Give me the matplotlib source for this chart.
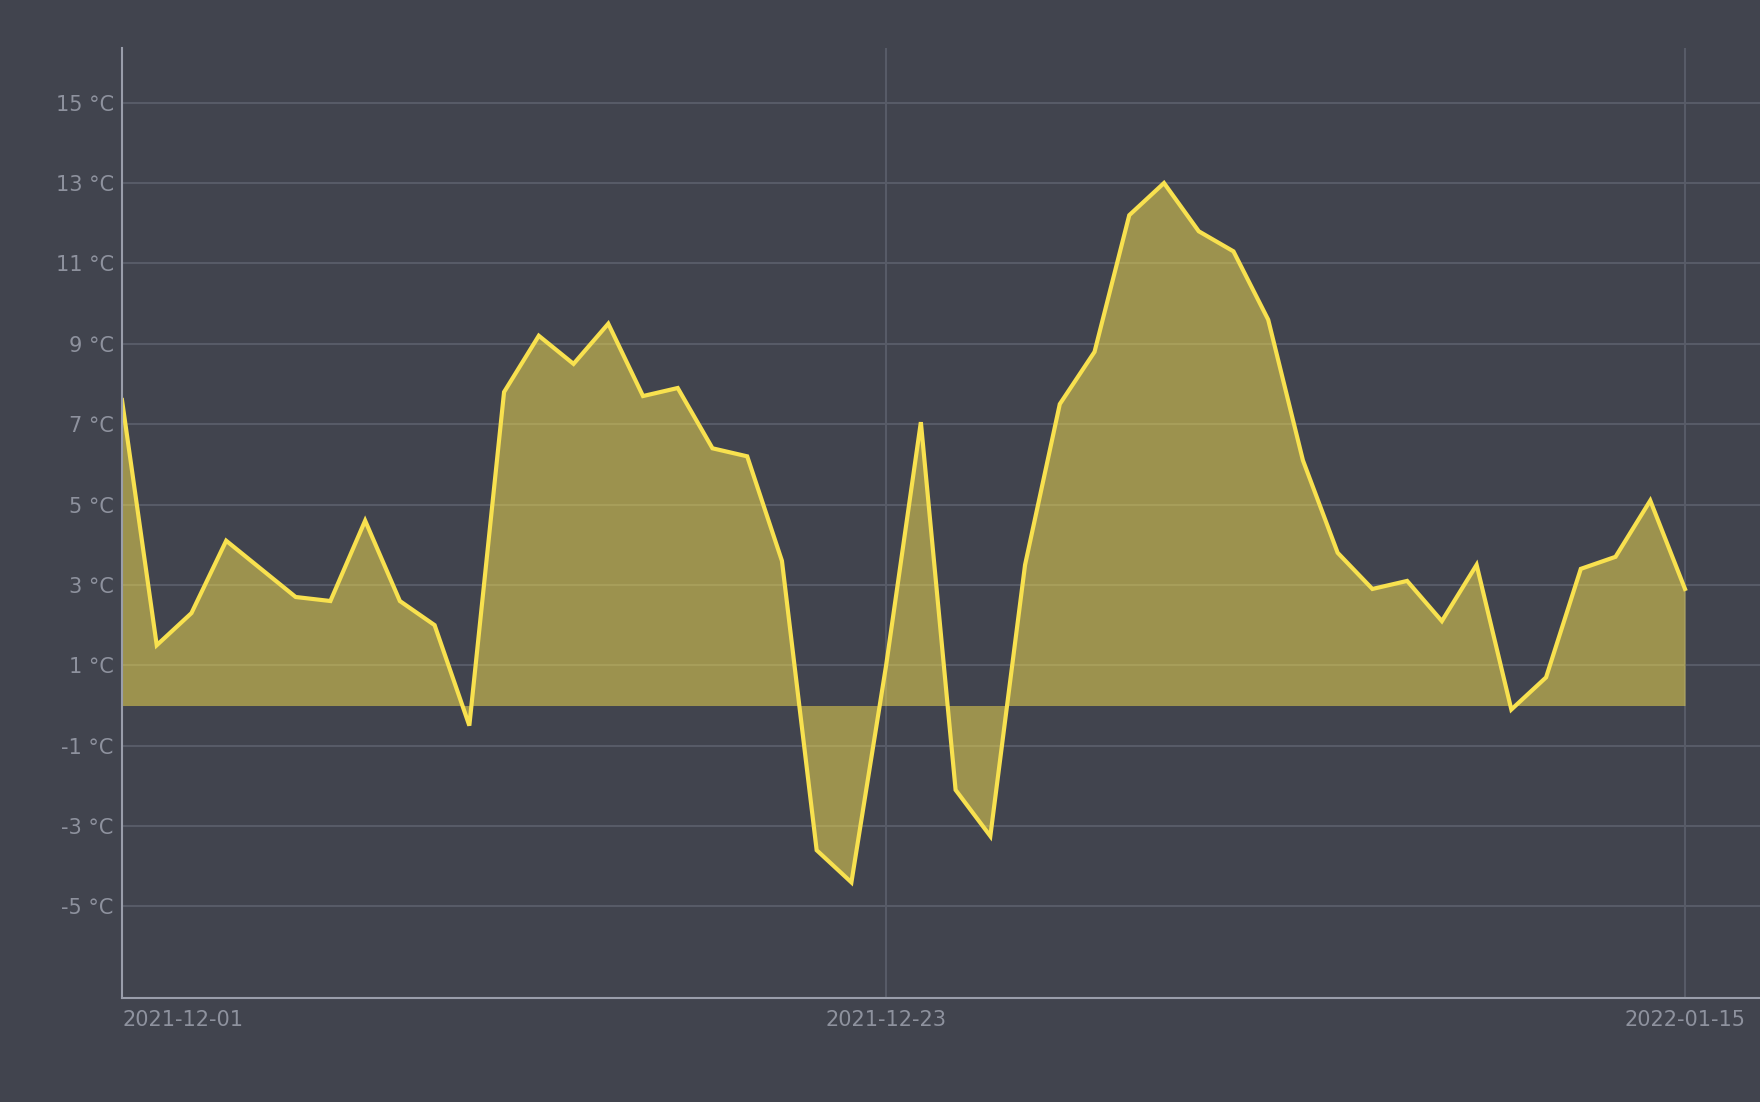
import matplotlib
matplotlib.use("Agg")
import matplotlib.pyplot as plt
import matplotlib.dates as mdates
import numpy as np
import pandas as pd

dates = pd.date_range("2021-12-01", "2022-01-15", freq="D")
temps = [7.6, 1.5, 2.3, 4.1, 3.4, 2.7, 2.6, 4.6, 2.6, 2.0,
         -0.5, 7.8, 9.2, 8.5, 9.5, 7.7, 7.9, 6.4, 6.2, 3.6,
         -3.6, -4.4, 1.0, 7.05, -2.1, -3.25, 3.5, 7.5, 8.8, 12.2,
         13.0, 11.8, 11.3, 9.6, 6.1, 3.8, 2.9, 3.1, 2.1, 3.5,
         -0.1, 0.7, 3.4, 3.7, 5.1, 2.9]
yticks = [-5, -3, -1, 1, 3, 5, 7, 9, 11, 13, 15]
xtick_labels = ["2021-12-01", "2021-12-23", "2022-01-15"]

BG = "#41444e"
GRID = "#575b67"
AXIS = "#9a9eab"
TEXT = "#8e929e"
LINE = "#f8e14f"

W, H = 1760, 1102
fig = plt.figure(figsize=(W / 100, H / 100), dpi=100, facecolor=BG)
left, right, top, bottom = 122, 1760, 48, 997.7
ax = fig.add_axes([left / W, 1 - bottom / H, (right - left) / W, (bottom - top) / H])
ax.set_facecolor(BG)

x = mdates.date2num(dates)
ax.fill_between(x, temps, 0, color=LINE, alpha=0.5, linewidth=0, zorder=2)
ax.plot(x, temps, color=LINE, lw=3, solid_joinstyle="miter", zorder=3)

x0 = x[0]
day_px = (1685 - 122) / 45.0
ax.set_xlim(x0, x0 + (right - left) / day_px)
ax.set_ylim(-7.27, 16.36)

xt = mdates.date2num(pd.to_datetime(xtick_labels))
ax.set_xticks(xt)
ax.set_xticklabels(xtick_labels)
ax.set_yticks(yticks)
ax.set_yticklabels([f"{v} °C" for v in yticks])

ax.grid(True, color=GRID, lw=1.5, zorder=0)
ax.set_axisbelow(True)
for s in ["top", "right"]:
    ax.spines[s].set_visible(False)
for s in ["left", "bottom"]:
    ax.spines[s].set_color(AXIS)
    ax.spines[s].set_linewidth(1.5)
    ax.spines[s].set_zorder(4)
ax.tick_params(axis="both", length=0, colors=TEXT, labelsize=15)
ax.tick_params(axis="y", pad=6)
ax.tick_params(axis="x", pad=9)
labels = ax.get_xticklabels()
labels[0].set_horizontalalignment("left")

fig.savefig("out.png", dpi=100, facecolor=BG)
